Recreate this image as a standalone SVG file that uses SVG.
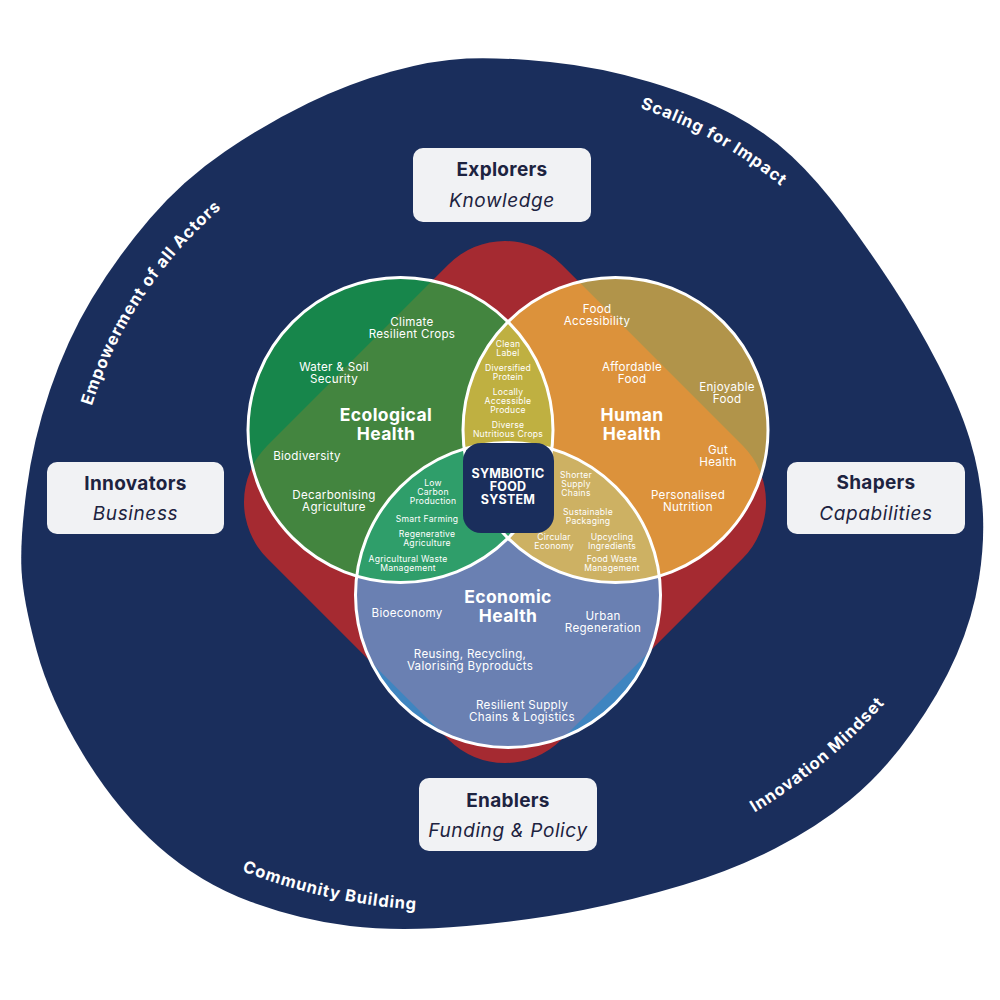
<svg xmlns="http://www.w3.org/2000/svg" width="1000" height="1000" viewBox="0 0 1000 1000">
<style>
text{font-family:Inter,"Open Sans","Liberation Sans",sans-serif}
.s{font-size:11.6px;letter-spacing:0.3px;fill:#fff;text-anchor:middle}
.xs{font-size:8.6px;letter-spacing:0.25px;fill:#fff;text-anchor:middle}
.h{font-size:17.5px;font-weight:700;letter-spacing:0.4px;fill:#fff;text-anchor:middle}
.bt{font-size:19px;font-weight:700;letter-spacing:0.3px;fill:#1d2340;text-anchor:middle}
.bi{font-size:19px;font-style:italic;letter-spacing:0.6px;fill:#1d2340;text-anchor:middle}
.arc{font-size:16.5px;font-weight:700;letter-spacing:0.9px;fill:#fff}
.box{fill:#f1f2f4}
.ring{fill:none;stroke:#fff;stroke-width:3}
.sym{font-size:12.5px;font-weight:700;letter-spacing:0.2px;fill:#fff;text-anchor:middle}
</style>
<defs>
<rect id="dia" x="297" y="294" width="416" height="416" rx="80" transform="rotate(45 505 502)"/>
<clipPath id="cG"><circle cx="400.5" cy="430" r="152.5"/></clipPath>
<clipPath id="cO"><circle cx="615.5" cy="430" r="152.5"/></clipPath>
<clipPath id="cB"><circle cx="508" cy="595" r="152.5"/></clipPath>
<path id="pScale" d="M529.2,86.1 A446,446 0 0 1 858.8,268.8"/>
<path id="pEmp" d="M73.7,506.5 A425,425 0 0 1 307.1,151.3"/>
<path id="pInno" d="M603.6,877.4 A574,574 0 0 0 975.2,565.6"/>
<path id="pComm" d="M117.8,804.6 A588,588 0 0 0 557.1,902.1"/>
</defs>

<g id="background">
<path fill="#1a2e5c" d="M466.5,58.5 Q500,57 550,62 Q600,67 650,82 Q700,97 733.5,115 Q767,133 792,156.5 Q817,180 842,213.5 Q867,247 892,285 Q917,323 938.5,365 Q960,407 970,440 Q980,473 982.5,506.5 Q985,540 979,578.5 Q973,617 956.5,655 Q940,693 911.5,733 Q883,773 850,800 Q817,827 775,848.5 Q733,870 683,885 Q633,900 583,910 Q533,920 466.5,926 Q400,932 350,926 Q300,920 250,901.5 Q200,883 158.5,846.5 Q117,810 83.5,755 Q50,700 36.5,650 Q23,600 21.5,570 Q20,540 26.5,490 Q33,440 50,390 Q67,340 92,298.5 Q117,257 150,218.5 Q183,180 225,151.5 Q267,123 308.5,103 Q350,83 391.5,71.5 Q433,60 466.5,58.5 Z"/>
<use href="#dia" fill="#a52a31"/>
</g>

<g id="ring-labels">
<text class="arc"><textPath href="#pScale" startOffset="50%" text-anchor="middle">Scaling for Impact</textPath></text>
<text class="arc"><textPath href="#pEmp" startOffset="50%" text-anchor="middle">Empowerment of all Actors</textPath></text>
<text class="arc"><textPath href="#pInno" startOffset="50%" text-anchor="middle">Innovation Mindset</textPath></text>
<text class="arc"><textPath href="#pComm" startOffset="50%" text-anchor="middle">Community Building</textPath></text>
</g>

<g id="circle-ecological">
<circle cx="400.5" cy="430" r="152.5" fill="#17864b"/>
<use href="#dia" fill="#43853f" clip-path="url(#cG)"/>
</g>
<g id="circle-human">
<circle cx="615.5" cy="430" r="152.5" fill="#b1944a"/>
<use href="#dia" fill="#dc923b" clip-path="url(#cO)"/>
</g>
<g id="circle-economic">
<circle cx="508" cy="595" r="152.5" fill="#3f85c0"/>
<use href="#dia" fill="#6a80b2" clip-path="url(#cB)"/>
</g>
<g id="lenses">
<circle cx="615.5" cy="430" r="152.5" fill="#bfb041" clip-path="url(#cG)"/>
<circle cx="508" cy="595" r="152.5" fill="#2f9e6a" clip-path="url(#cG)"/>
<circle cx="508" cy="595" r="152.5" fill="#cdb163" clip-path="url(#cO)"/>
<g clip-path="url(#cG)"><circle cx="508" cy="595" r="152.5" fill="#2f9e6a" clip-path="url(#cO)"/></g>
</g>
<g id="rings">
<circle class="ring" cx="400.5" cy="430" r="152.5"/>
<circle class="ring" cx="615.5" cy="430" r="152.5"/>
<circle class="ring" cx="508" cy="595" r="152.5"/>
</g>

<g id="ecological-text">
<text class="h" x="386" y="420.5">Ecological</text>
<text class="h" x="386" y="439.5">Health</text>
<text class="s" x="412" y="326">Climate</text>
<text class="s" x="412" y="338">Resilient Crops</text>
<text class="s" x="334" y="371">Water &amp; Soil</text>
<text class="s" x="334" y="383">Security</text>
<text class="s" x="307" y="460">Biodiversity</text>
<text class="s" x="334" y="499">Decarbonising</text>
<text class="s" x="334" y="511">Agriculture</text>
</g>
<g id="human-text">
<text class="h" x="632" y="420.5">Human</text>
<text class="h" x="632" y="439.5">Health</text>
<text class="s" x="597" y="313">Food</text>
<text class="s" x="597" y="325">Accesibility</text>
<text class="s" x="632" y="371">Affordable</text>
<text class="s" x="632" y="383">Food</text>
<text class="s" x="727" y="391">Enjoyable</text>
<text class="s" x="727" y="403">Food</text>
<text class="s" x="718" y="454">Gut</text>
<text class="s" x="718" y="466">Health</text>
<text class="s" x="688" y="499">Personalised</text>
<text class="s" x="688" y="511">Nutrition</text>
</g>
<g id="economic-text">
<text class="h" x="508" y="602.5">Economic</text>
<text class="h" x="508" y="621.5">Health</text>
<text class="s" x="407" y="617">Bioeconomy</text>
<text class="s" x="603" y="620">Urban</text>
<text class="s" x="603" y="632">Regeneration</text>
<text class="s" x="470" y="658">Reusing, Recycling,</text>
<text class="s" x="470" y="670">Valorising Byproducts</text>
<text class="s" x="522" y="709">Resilient Supply</text>
<text class="s" x="522" y="721">Chains &amp; Logistics</text>
</g>
<g id="lens-eco-human-text">
<text class="xs" x="508" y="347">Clean</text>
<text class="xs" x="508" y="356">Label</text>
<text class="xs" x="508" y="371">Diversified</text>
<text class="xs" x="508" y="380">Protein</text>
<text class="xs" x="508" y="395">Locally</text>
<text class="xs" x="508" y="404">Accessible</text>
<text class="xs" x="508" y="413">Produce</text>
<text class="xs" x="508" y="428">Diverse</text>
<text class="xs" x="508" y="437">Nutritious Crops</text>
</g>
<g id="lens-eco-econ-text">
<text class="xs" x="433" y="486">Low</text>
<text class="xs" x="433" y="495">Carbon</text>
<text class="xs" x="433" y="504">Production</text>
<text class="xs" x="427" y="522">Smart Farming</text>
<text class="xs" x="427" y="537">Regenerative</text>
<text class="xs" x="427" y="546">Agriculture</text>
<text class="xs" x="408" y="562">Agricultural Waste</text>
<text class="xs" x="408" y="571">Management</text>
</g>
<g id="lens-human-econ-text">
<text class="xs" x="576" y="478">Shorter</text>
<text class="xs" x="576" y="487">Supply</text>
<text class="xs" x="576" y="496">Chains</text>
<text class="xs" x="588" y="515">Sustainable</text>
<text class="xs" x="588" y="524">Packaging</text>
<text class="xs" x="554" y="540">Circular</text>
<text class="xs" x="554" y="549">Economy</text>
<text class="xs" x="612" y="540">Upcycling</text>
<text class="xs" x="612" y="549">Ingredients</text>
<text class="xs" x="612" y="562">Food Waste</text>
<text class="xs" x="612" y="571">Management</text>
</g>

<g id="center">
<rect x="463" y="443" width="91" height="90" rx="18" fill="#1a2e5c"/>
<text class="sym" x="508" y="478">SYMBIOTIC</text>
<text class="sym" x="508" y="491">FOOD</text>
<text class="sym" x="508" y="504">SYSTEM</text>
</g>

<g id="explorers">
<rect class="box" x="413" y="148" width="178" height="74" rx="10"/>
<text class="bt" x="502" y="176">Explorers</text>
<text class="bi" x="502" y="207">Knowledge</text>
</g>
<g id="innovators">
<rect class="box" x="47" y="462" width="177" height="72" rx="10"/>
<text class="bt" x="135.5" y="490">Innovators</text>
<text class="bi" x="135.5" y="520">Business</text>
</g>
<g id="shapers">
<rect class="box" x="787" y="462" width="178" height="72" rx="10"/>
<text class="bt" x="876" y="489">Shapers</text>
<text class="bi" x="876" y="520">Capabilities</text>
</g>
<g id="enablers">
<rect class="box" x="419" y="778" width="178" height="73" rx="10"/>
<text class="bt" x="508" y="807">Enablers</text>
<text class="bi" x="508" y="837">Funding &amp; Policy</text>
</g>
</svg>
